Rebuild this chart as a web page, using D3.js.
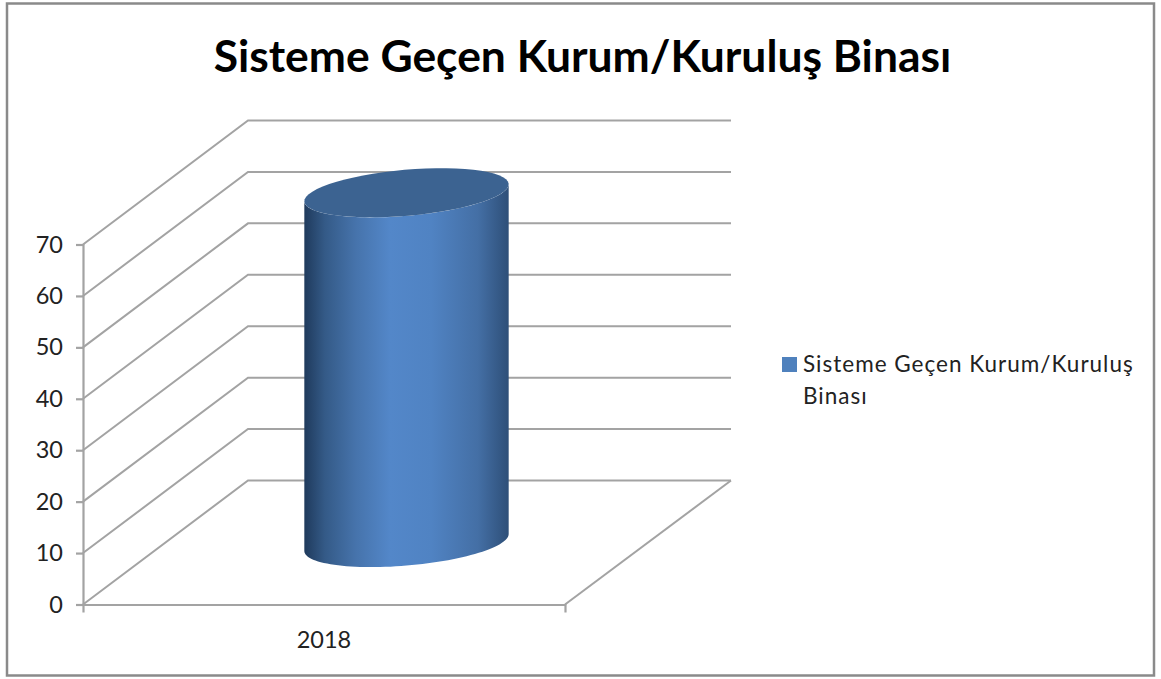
<!DOCTYPE html>
<html>
<head>
<meta charset="utf-8">
<script src="https://cdn.jsdelivr.net/npm/d3@7"></script>
<style>
html, body { margin: 0; background: #fff; }
svg { display: block; }
</style>
</head>
<body>
<div id="canvas"></div>
<script>
const categories = ['2018'];
const values = [68];
const yTicks = [0, 10, 20, 30, 40, 50, 60, 70];
const titleText = 'Sisteme Geçen Kurum/Kuruluş Binası';
const legendLines = ['Sisteme Geçen Kurum/Kuruluş', 'Binası'];

const w = 1161,
    h = 679,
    x0 = 83,
    x1 = 565,
    y0 = 604.5,
    y1 = 244.5,
    depthX = 165,
    depthY = -124,
    grey = '#a3a3a3',
    font = 'Lato, "Open Sans", sans-serif',
    svg = d3.select('#canvas').append('svg')
        .attr('width', w)
        .attr('height', h);

const y = d3.scaleLinear().domain([0, 70]).range([y0, y1]);
const x = d3.scaleBand().domain(categories).range([x0, x1]).padding(0.403);

const defs = svg.append('defs');
const grad = defs.append('linearGradient').attr('id', 'body');
[[0, '#1f3a5c'], [0.1, '#345a87'], [0.25, '#4673ab'], [0.42, '#5387c9'],
 [0.62, '#5083c3'], [0.85, '#446fa5'], [1, '#2e4f78']].forEach(function (s) {
    grad.append('stop').attr('offset', s[0]).attr('stop-color', s[1]);
});

// chart frame
svg.append('rect')
    .attr('x', 7)
    .attr('y', 3.5)
    .attr('width', 1147)
    .attr('height', 672)
    .attr('fill', '#fff')
    .attr('stroke', '#8a8a8a')
    .attr('stroke-width', 2.5);

svg.append('text')
    .attr('x', 582.5)
    .attr('y', 72)
    .attr('text-anchor', 'middle')
    .attr('font-family', font)
    .attr('font-size', '44.4px')
    .attr('font-weight', 700)
    .attr('fill', '#000')
    .text(titleText);

// side wall and back wall lines
const walls = svg.append('g')
    .attr('fill', 'none')
    .attr('stroke', grey)
    .attr('stroke-width', 2);

walls.selectAll('path')
    .data(yTicks)
    .join('path')
    .attr('d', function (d) {
        const p = d3.path();
        p.moveTo(x0, y(d));
        p.lineTo(x0 + depthX, y(d) + depthY);
        p.lineTo(x1 + depthX + 1, y(d) + depthY);
        return p.toString();
    });

// floor edge on the right
walls.append('line')
    .attr('x1', x1)
    .attr('y1', y0)
    .attr('x2', x1 + depthX + 1)
    .attr('y2', y0 + depthY);

// cylinder, an ellipse tilted a little for the 3d view
const a = x.bandwidth() / 2,
    b = 23,
    tilt = -5 * Math.PI / 180;

function rim(cx, cy, t) {
    return [
        cx + a * Math.cos(t) * Math.cos(tilt) - b * Math.sin(t) * Math.sin(tilt),
        cy + a * Math.cos(t) * Math.sin(tilt) + b * Math.sin(t) * Math.cos(tilt)
    ];
}

function ellipsePoints(cx, cy, from, to) {
    return d3.range(0, 61).map(function (i) {
        return rim(cx, cy, from + (to - from) * i / 60);
    });
}

const bars = svg.append('g');
categories.forEach(function (c, i) {
    const cx = x(c) + x.bandwidth() / 2 + depthX / 2,
        base = y(0) + depthY / 2,
        top = y(values[i]) + depthY / 2,
        tLeft = Math.PI + Math.atan(b * Math.tan(tilt) / a) * -1,
        tRight = tLeft - Math.PI,
        lower = ellipsePoints(cx, base, tRight, tLeft),
        upper = ellipsePoints(cx, top, tLeft, tRight);

    bars.append('path')
        .attr('d', d3.line()(lower.concat(upper)) + 'Z')
        .attr('fill', 'url(#body)');

    bars.append('path')
        .attr('d', d3.line()(ellipsePoints(cx, top, 0, 2 * Math.PI)) + 'Z')
        .attr('fill', '#3c6391');
});

function axisStyle(g) {
    g.select('.domain').attr('stroke', grey).attr('stroke-width', 2.2);
    g.selectAll('.tick line').attr('stroke', grey).attr('stroke-width', 2.2);
    g.selectAll('.tick text')
        .attr('font-family', font)
        .attr('font-size', '23.5px')
        .attr('fill', '#222');
}

svg.append('g')
    .attr('transform', 'translate(' + x0 + ',0)')
    .call(d3.axisLeft(y).tickValues(yTicks).tickSize(7).tickPadding(13))
    .call(axisStyle);

svg.append('g')
    .attr('transform', 'translate(0,' + y0 + ')')
    .call(d3.axisBottom(x).tickSizeOuter(8).tickSizeInner(0).tickPadding(27))
    .call(axisStyle);

// legend
svg.append('rect')
    .attr('x', 782)
    .attr('y', 357)
    .attr('width', 15)
    .attr('height', 15)
    .attr('fill', '#4f81bd');

svg.append('g')
    .selectAll('text')
    .data(legendLines)
    .join('text')
    .attr('x', 803)
    .attr('y', function (d, i) { return 372 + i * 32; })
    .attr('font-family', font)
    .attr('font-size', '22.5px')
    .attr('letter-spacing', '1px')
    .attr('fill', '#222')
    .text(function (d) { return d; });
</script>
</body>
</html>
